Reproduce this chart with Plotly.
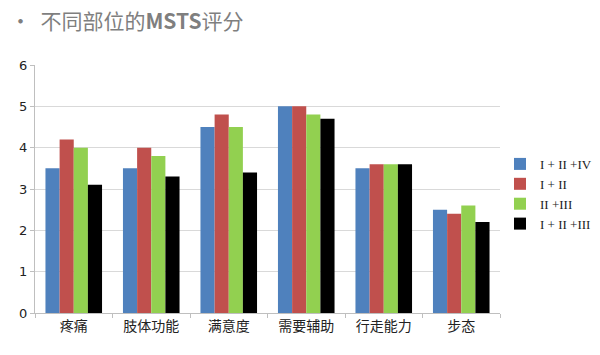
import plotly.graph_objects as go

categories = ["疼痛", "肢体功能", "满意度", "需要辅助", "行走能力", "步态"]
series_names = ["I + II +IV", "I + II", "II +III", "I + II +III"]
s1 = [3.5, 3.5, 4.5, 5.0, 3.5, 2.5]
s2 = [4.2, 4.0, 4.8, 5.0, 3.6, 2.4]
s3 = [4.0, 3.8, 4.5, 4.8, 3.6, 2.6]
s4 = [3.1, 3.3, 3.4, 4.7, 3.6, 2.2]
colors = ["#4F81BD", "#C0504D", "#92D050", "#000000"]

fig = go.Figure()
for name, vals, c in zip(series_names, [s1, s2, s3, s4], colors):
    fig.add_trace(go.Bar(x=categories, y=vals, name=name, marker_color=c,
                         marker_line_width=0))

fig.update_layout(
    width=600, height=355,
    margin=dict(l=35, r=100, t=65, b=42, autoexpand=False),
    paper_bgcolor="white", plot_bgcolor="white",
    barmode="group", bargap=0.27, bargroupgap=0,
    font=dict(family="Noto Sans CJK SC, sans-serif", size=13, color="#333"),
    legend=dict(x=1.0, y=0.48, yanchor="middle", xanchor="left",
                font=dict(family="Liberation Serif", size=13, color="#222"),
                itemwidth=30, tracegroupgap=4),
)
fig.add_annotation(text="•  不同部位的<b>MSTS</b>评分", xref="paper", yref="paper",
                   x=-0.057, y=1.18, xanchor="left", yanchor="middle", showarrow=False,
                   font=dict(size=21, color="#7F7F7F", family="Noto Sans CJK SC"))
fig.update_yaxes(range=[0, 6], dtick=1, showgrid=True, gridcolor="#D9D9D9",
                 showline=True, linecolor="#BFBFBF", ticks="outside", ticklen=4,
                 tickcolor="#BFBFBF", zeroline=False, automargin=False,
                 tickfont=dict(family="DejaVu Sans", size=13, color="#222"))
fig.update_xaxes(showline=True, linecolor="#BFBFBF", ticks="outside", ticklen=4,
                 tickcolor="#BFBFBF", tickson="boundaries", automargin=False,
                 tickfont=dict(size=14, color="#222"))
fig.write_html("out.html", config={"displayModeBar": False},
               post_script="document.body.style.margin='0';")
